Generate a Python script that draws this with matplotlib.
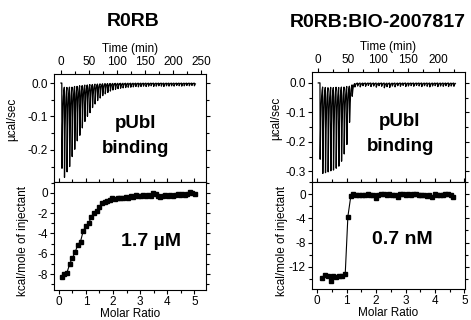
import numpy as np
import matplotlib.pyplot as plt
from matplotlib.ticker import MultipleLocator

plt.rcParams['font.family'] = ['Liberation Sans', 'DejaVu Sans']
plt.rcParams['axes.unicode_minus'] = False
plt.rcParams['font.size'] = 9

# ---- R0RB (left) ----
# injection times (min) and peak heights (ucal/sec)
left_inj_t = [1.5, 6.0, 10.6, 15.2, 19.7, 24.3, 28.8, 33.4, 37.9, 42.5,
              47.0, 51.6, 56.1, 60.7, 65.2, 69.8, 74.3, 78.9, 83.4, 88.0,
              92.5, 97.1, 101.6, 106.2, 110.7, 115.3, 119.8, 124.4, 128.9, 133.5,
              138.0, 142.6, 147.1, 151.7, 156.2, 160.8, 165.3, 169.9, 174.4, 179.0,
              183.5, 188.1, 192.6, 197.2, 201.7, 206.3, 210.8, 215.4, 219.9, 224.5,
              229.0, 233.6, 238.1]
left_peak = [-0.255, -0.272, -0.255, -0.240, -0.210, -0.190, -0.165, -0.150, -0.128, -0.110,
             -0.095, -0.085, -0.070, -0.060, -0.050, -0.043, -0.036, -0.031, -0.027, -0.023,
             -0.020, -0.018, -0.016, -0.015, -0.014, -0.013, -0.012, -0.012, -0.011, -0.010,
             -0.011, -0.010, -0.009, -0.010, -0.009, -0.008, -0.010, -0.009, -0.008, -0.009,
             -0.010, -0.008, -0.009, -0.008, -0.009, -0.007, -0.008, -0.009, -0.008, -0.007,
             -0.008, -0.007, -0.008]
# integrated heats
left_mr = [0.10, 0.20, 0.30, 0.40, 0.50, 0.60, 0.70, 0.80, 0.90, 1.00,
           1.10, 1.20, 1.29, 1.39, 1.49, 1.59, 1.69, 1.79, 1.88, 1.98,
           2.08, 2.17, 2.27, 2.36, 2.46, 2.55, 2.65, 2.74, 2.84, 2.93,
           3.02, 3.11, 3.21, 3.30, 3.39, 3.48, 3.57, 3.66, 3.75, 3.84,
           3.93, 4.02, 4.11, 4.20, 4.29, 4.38, 4.47, 4.56, 4.65, 4.74,
           4.83, 4.92, 5.01]
left_heat = [-8.3, -8.0, -7.85, -7.0, -6.4, -5.85, -5.1, -4.8, -3.75, -3.25,
             -3.0, -2.4, -1.95, -1.75, -1.4, -1.05, -0.95, -0.85, -0.7, -0.5,
             -0.6, -0.55, -0.5, -0.55, -0.45, -0.5, -0.35, -0.4, -0.2, -0.3,
             -0.3, -0.25, -0.3, -0.2, -0.3, -0.05, -0.15, -0.3, -0.4, -0.3,
             -0.25, -0.3, -0.25, -0.3, -0.2, -0.15, -0.2, -0.1, -0.2, -0.15,
             0.05, -0.05, -0.15]

# ---- R0RB:BIO-2007817 (right) ----
right_inj_t = [2.8, 7.2, 11.7, 16.1, 20.6, 25.0, 29.5, 33.9, 38.4, 42.8,
               47.3, 51.7, 56.2, 60.6, 65.1, 69.5, 74.0, 78.4, 82.9, 87.3,
               91.8, 96.2, 100.7, 105.1, 109.6, 114.0, 118.5, 122.9, 127.4, 131.8,
               136.3, 140.7, 145.2, 149.6, 154.1, 158.5, 163.0, 167.4, 171.9, 176.3,
               180.8, 185.2, 189.7, 194.1, 198.6, 203.0, 207.5, 211.9, 216.4, 220.8,
               225.3]
right_peak = [-0.260, -0.297, -0.293, -0.290, -0.286, -0.283, -0.278, -0.270, -0.255, -0.230,
              -0.200, -0.125, -0.040, -0.012, -0.010, -0.013, -0.009, -0.011, -0.008, -0.012,
              -0.010, -0.014, -0.009, -0.011, -0.016, -0.012, -0.015, -0.010, -0.013, -0.009,
              -0.011, -0.008, -0.012, -0.010, -0.009, -0.011, -0.008, -0.010, -0.012, -0.009,
              -0.011, -0.013, -0.010, -0.009, -0.012, -0.010, -0.011, -0.009, -0.012, -0.010,
              -0.011]
right_mr = [0.15, 0.25, 0.35, 0.45, 0.55, 0.65, 0.75, 0.85, 0.95, 1.04,
            1.14, 1.23, 1.33, 1.42, 1.52, 1.61, 1.71, 1.80, 1.90, 1.99,
            2.08, 2.18, 2.27, 2.36, 2.45, 2.55, 2.64, 2.73, 2.82, 2.91,
            3.00, 3.09, 3.18, 3.27, 3.36, 3.45, 3.54, 3.63, 3.72, 3.81,
            3.90, 3.99, 4.08, 4.17, 4.26, 4.35, 4.44, 4.53, 4.61]
right_heat = [-13.8, -13.4, -13.6, -14.3, -13.5, -13.7, -13.5, -13.6, -13.2, -3.7,
              -0.3, 0.0, -0.1, -0.2, -0.1, -0.15, 0.0, -0.2, -0.1, -0.55,
              -0.1, 0.05, 0.0, -0.1, -0.05, -0.2, -0.1, -0.5, 0.05, 0.1,
              -0.1, 0.0, -0.15, 0.1, 0.05, -0.1, -0.2, -0.1, -0.3, -0.1,
              -0.45, 0.0, -0.2, -0.1, -0.1, 0.0, 0.1, -0.1, -0.4]


def thermogram(inj_t, peaks, t_end):
    t = np.linspace(0, t_end, 24000)
    y = np.zeros_like(t)
    for ti, di in zip(inj_t, peaks):
        dt = t - ti
        up = (dt >= 0) & (dt < 0.3)
        y[up] += di * dt[up] / 0.3
        down = dt >= 0.3
        y[down] += di * np.exp(-(dt[down] - 0.3) / 1.4)
    return t, y


def style_top(ax, xlim, ylim, xmaj, ymaj, ymin):
    ax.set_xlim(*xlim)
    ax.set_ylim(*ylim)
    ax.xaxis.tick_top()
    ax.xaxis.set_label_position('top')
    ax.xaxis.set_major_locator(MultipleLocator(xmaj))
    ax.xaxis.set_minor_locator(MultipleLocator(xmaj / 2))
    ax.yaxis.set_major_locator(MultipleLocator(ymaj))
    ax.yaxis.set_minor_locator(MultipleLocator(ymin))
    ax.yaxis.set_major_formatter(plt.FormatStrFormatter('%.1f'))
    ax.tick_params(which='both', direction='out', top=True, bottom=False,
                   left=True, right=True, labelsize=8.5, width=0.8, pad=1.5)
    ax.tick_params(which='major', length=3)
    ax.tick_params(which='minor', length=2)
    ax.set_xlabel('Time (min)', fontsize=8.5)
    ax.set_ylabel('µcal/sec', fontsize=8.5)
    for s in ax.spines.values():
        s.set_linewidth(0.8)


def style_bot(ax, xlim, ylim, ymaj, ymin):
    ax.set_xlim(*xlim)
    ax.set_ylim(*ylim)
    ax.xaxis.set_major_locator(MultipleLocator(1))
    ax.xaxis.set_minor_locator(MultipleLocator(0.5))
    ax.yaxis.set_major_locator(MultipleLocator(ymaj))
    ax.yaxis.set_minor_locator(MultipleLocator(ymin))
    ax.tick_params(which='both', direction='out', labelsize=8.5, width=0.8, pad=1.5)
    ax.tick_params(which='both', top=True, right=True)
    ax.tick_params(which='major', length=3)
    ax.tick_params(which='minor', length=2)
    ax.set_xlabel('Molar Ratio', fontsize=8.5)
    ax.set_ylabel('kcal/mole of injectant', fontsize=8.5)
    for s in ax.spines.values():
        s.set_linewidth(0.8)


fig = plt.figure(figsize=(4.71, 3.2), dpi=100)

# left panels
axLt = fig.add_axes([0.1146, 0.43125, 0.3227, 0.3375])
axLb = fig.add_axes([0.1146, 0.09375, 0.3227, 0.3375])
t, y = thermogram(left_inj_t, left_peak, 240)
axLt.plot(t, y, color='black', lw=0.9)
style_top(axLt, (-12.5, 259), (-0.296, 0.027), 50, 0.1, 0.05)
axLt.text(134, -0.122, 'pUbl', ha='center', va='center', fontsize=13.5, fontweight='bold')
axLt.text(134, -0.197, 'binding', ha='center', va='center', fontsize=13.5, fontweight='bold')

axLb.plot(left_mr, left_heat, color='black', lw=0.8, marker='s', ms=2.6)
style_bot(axLb, (-0.18, 5.43), (-9.56, 1.05), 2, 1)
axLb.text(3.40, -4.75, '1.7 µM', ha='center', va='center', fontsize=14, fontweight='bold')

# right panels
axRt = fig.add_axes([0.6624, 0.43125, 0.3248, 0.34375])
axRb = fig.add_axes([0.6624, 0.096875, 0.3248, 0.334])
t, y = thermogram(right_inj_t, right_peak, 228)
axRt.plot(t, y, color='black', lw=0.9)
style_top(axRt, (-10.5, 244), (-0.336, 0.037), 50, 0.1, 0.05)
axRt.text(136, -0.132, 'pUbl', ha='center', va='center', fontsize=13.5, fontweight='bold')
axRt.text(136, -0.217, 'binding', ha='center', va='center', fontsize=13.5, fontweight='bold')

axRb.plot(right_mr, right_heat, color='black', lw=0.8, marker='s', ms=2.6)
style_bot(axRb, (-0.18, 5.02), (-15.7, 2.0), 4, 2)
axRb.text(2.88, -7.5, '0.7 nM', ha='center', va='center', fontsize=14, fontweight='bold')

# label placement
for ax, xl in [(axLt, -0.273), (axRt, -0.235)]:
    ax.yaxis.set_label_coords(xl, 0.58)
    ax.yaxis.label.set_va('center')
    ax.xaxis.set_label_coords(0.5, 1.23)
    ax.xaxis.label.set_va('center')
for ax, xl in [(axLb, -0.204), (axRb, -0.196)]:
    ax.yaxis.set_label_coords(xl, 0.45)
    ax.yaxis.label.set_va('center')
    ax.xaxis.set_label_coords(0.5, -0.22)
    ax.xaxis.label.set_va('center')

fig.text(133.4 / 471, 1 - 22 / 320, 'R0RB', ha='center', va='center', fontsize=14, fontweight='bold')
fig.text(377.5 / 471, 1 - 22.5 / 320, 'R0RB:BIO-2007817', ha='center', va='center', fontsize=14, fontweight='bold')

fig.savefig('out.png', dpi=100)
